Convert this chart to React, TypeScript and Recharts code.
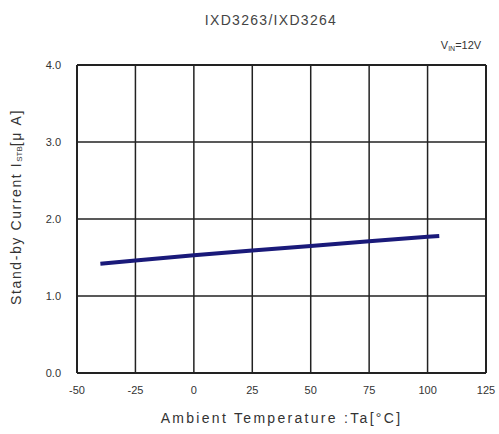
import React from "react";
import { LineChart, Line, XAxis, YAxis, CartesianGrid, ReferenceLine, Label } from "recharts";

const temps = [-40, -25, 0, 25, 50, 75, 100, 105];
const current = [1.42, 1.46, 1.53, 1.59, 1.65, 1.71, 1.77, 1.78];
const xTicks = [-50, -25, 0, 25, 50, 75, 100, 125];
const yTicks = [0, 1, 2, 3, 4];

const data = temps.map((t, i) => ({ t, v: current[i] }));

const FONT = "'Liberation Sans', Arial, sans-serif";

const YLabel = (props: any) => {
  const { viewBox } = props;
  const cx = 16;
  const cy = viewBox.y + viewBox.height / 2 - 12;
  return (
    <text
      x={cx}
      y={cy}
      transform={`rotate(-90 ${cx} ${cy})`}
      textAnchor="middle"
      dominantBaseline="central"
      fontFamily={FONT}
      fontSize={14}
      letterSpacing={1.6}
      fill="#333"
    >
      Stand-by Current I
      <tspan fontSize={8} dy={3} letterSpacing={0}>STB</tspan>
      <tspan dy={-3}>[μ A]</tspan>
    </text>
  );
};

export default function App() {
  return (
    <div style={{ position: "absolute", left: 0, top: 0, width: 499, height: 434, background: "#fff" }}>
      <svg width={499} height={434} style={{ position: "absolute", left: 0, top: 0, pointerEvents: "none" }}>
        <text x={271} y={25} textAnchor="middle" fontFamily={FONT} fontSize={14} letterSpacing={1.3} fill="#444">
          IXD3263/IXD3264
        </text>
        <text x={461} y={49} textAnchor="middle" fontFamily={FONT} fontSize={11} fill="#333">
          V<tspan fontSize={7} dy={2}>IN</tspan>
          <tspan dy={-2}>=12V</tspan>
        </text>
      </svg>
      <LineChart
        width={499}
        height={434}
        data={data}
        margin={{ top: 65, right: 13, left: 0, bottom: 0 }}
      >
        <CartesianGrid stroke="#222" strokeWidth={1.5} />
        <XAxis
          dataKey="t"
          type="number"
          domain={[-50, 125]}
          ticks={xTicks}
          tickLine={false}
          axisLine={{ stroke: "#222", strokeWidth: 2 }}
          tick={{ fontFamily: FONT, fontSize: 11, fill: "#333" }}
          tickMargin={7}
          height={61}
          interval={0}
        >
          <Label
            value="Ambient Temperature :Ta[°C]"
            position="insideBottom"
            offset={11}
            style={{ fontFamily: FONT, fontSize: 14, letterSpacing: 2.3, fill: "#333" }}
          />
        </XAxis>
        <YAxis
          type="number"
          domain={[0, 4]}
          ticks={yTicks}
          tickFormatter={(v: number) => v.toFixed(1)}
          tickLine={false}
          axisLine={{ stroke: "#222", strokeWidth: 2 }}
          tick={{ fontFamily: FONT, fontSize: 11, fill: "#333" }}
          tickMargin={10}
          width={77}
          interval={0}
        >
          <Label content={<YLabel />} />
        </YAxis>
        <ReferenceLine y={4} stroke="#222" strokeWidth={2} />
        <ReferenceLine x={125} stroke="#222" strokeWidth={2} />
        <Line
          type="linear"
          dataKey="v"
          stroke="#1a1a7a"
          strokeWidth={4}
          dot={false}
          isAnimationActive={false}
        />
      </LineChart>
    </div>
  );
}
